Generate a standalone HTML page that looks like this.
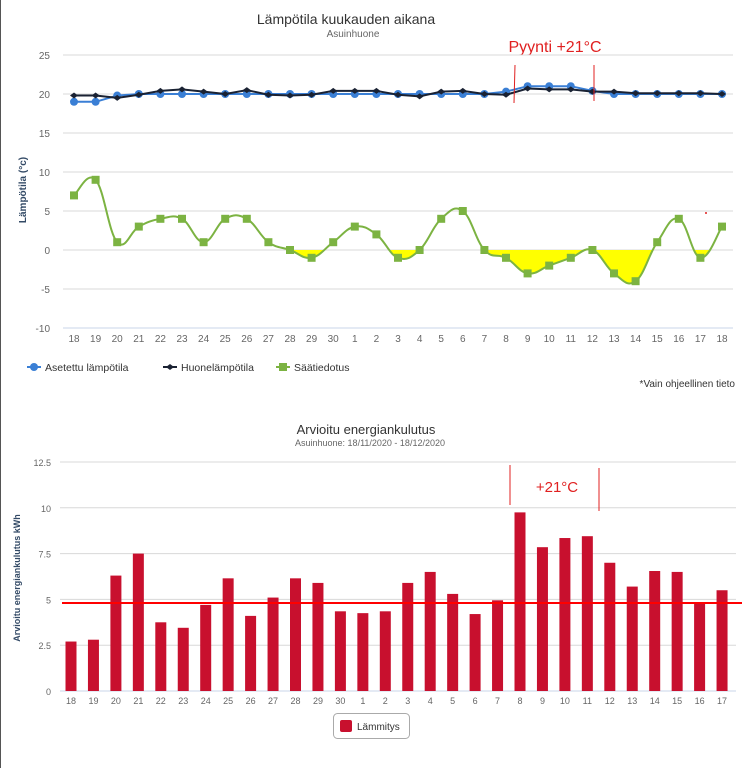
<!DOCTYPE html>
<html><head><meta charset="utf-8"><style>
html,body{margin:0;padding:0;background:#fff;width:742px;height:768px;overflow:hidden}
svg{display:block;font-family:"Liberation Sans",sans-serif}
</style></head><body>
<svg id="s" width="742" height="768" viewBox="0 0 742 768">
<rect width="742" height="768" fill="#fff"/>
<line x1="0.5" y1="0" x2="0.5" y2="768" stroke="#555" stroke-width="1"/>
<text x="346" y="24" text-anchor="middle" font-size="14" fill="#333">Lämpötila kuukauden aikana</text>
<text x="353" y="37" text-anchor="middle" font-size="10" fill="#666">Asuinhuone</text>
<text x="555" y="52" text-anchor="middle" font-size="16" fill="#e02020">Pyynti +21°C</text>
<text transform="translate(26,190) rotate(-90)" text-anchor="middle" font-size="10" font-weight="bold" fill="#334a66">Lämpötila (°c)</text>
<g id="gtop"></g>
<text x="735" y="387" text-anchor="end" font-size="10" fill="#333">*Vain ohjeellinen tieto</text>
<text x="366" y="434" text-anchor="middle" font-size="13" fill="#333">Arvioitu energiankulutus</text>
<text x="370" y="446" text-anchor="middle" font-size="9" fill="#666">Asuinhuone: 18/11/2020 - 18/12/2020</text>
<text transform="translate(20,578) rotate(-90)" text-anchor="middle" font-size="9" font-weight="bold" fill="#334a66">Arvioitu energiankulutus kWh</text>
<g id="gbot"></g>
<text x="557" y="492" text-anchor="middle" font-size="15" fill="#e02020">+21°C</text>
<line x1="510" y1="465" x2="510" y2="505" stroke="#e02020" stroke-width="1"/>
<line x1="599" y1="468" x2="599" y2="511" stroke="#e02020" stroke-width="1"/>
<rect x="333.5" y="713.5" width="76" height="25" rx="4" fill="#fff" stroke="#aaa"/>
<rect x="340" y="720" width="12" height="12" rx="2" fill="#c8102e"/>
<text x="357" y="730" font-size="10" fill="#333">Lämmitys</text>
</svg>
<script>
(function(){
const NS="http://www.w3.org/2000/svg";
function el(p,t,a,txt){const e=document.createElementNS(NS,t);for(const k in a)e.setAttribute(k,a[k]);if(txt!==undefined)e.textContent=txt;p.appendChild(e);return e;}
const gt=document.getElementById('gtop'),gb=document.getElementById('gbot');
const Y=v=>250-v*7.8, X=i=>74+i*21.6;
[25,20,15,10,5,0,-5,-10].forEach(v=>{el(gt,'line',{x1:63,x2:733,y1:Y(v),y2:Y(v),stroke:v==-10?'#c8d6e8':'#d8d8d8','stroke-width':1});
el(gt,'text',{x:50,y:Y(v)+4,'text-anchor':'end','font-size':10,fill:'#666'},String(v));});
const days=[18,19,20,21,22,23,24,25,26,27,28,29,30,1,2,3,4,5,6,7,8,9,10,11,12,13,14,15,16,17,18];
days.forEach((d,i)=>el(gt,'text',{x:X(i),y:342,'text-anchor':'middle','font-size':10,fill:'#666'},String(d)));
const w=[7,9,1,3,4,4,1,4,4,1,0,-1,1,3,2,-1,0,4,5,0,-1,-3,-2,-1,0,-3,-4,1,4,-1,3];
const setT=[19,19,19.8,20,20,20,20,20,20,20,20,20,20,20,20,20,20,20,20,20,20.3,21,21,21,20.4,20,20,20,20,20,20];
const room=[19.8,19.8,19.5,19.9,20.4,20.6,20.3,20,20.5,19.9,19.8,19.9,20.4,20.4,20.4,19.9,19.7,20.3,20.4,20,19.9,20.7,20.6,20.6,20.3,20.3,20.1,20.1,20.1,20.1,20];
function smooth(pts){let d=`M${pts[0][0]},${pts[0][1]}`;for(let i=0;i<pts.length-1;i++){const p0=pts[i-1]||pts[i],p1=pts[i],p2=pts[i+1],p3=pts[i+2]||p2;const t=0.2;
d+=` C${p1[0]+(p2[0]-p0[0])*t},${p1[1]+(p2[1]-p0[1])*t} ${p2[0]-(p3[0]-p1[0])*t},${p2[1]-(p3[1]-p1[1])*t} ${p2[0]},${p2[1]}`;}return d;}
const wp=w.map((v,i)=>[X(i),Y(v)]);
const wd=smooth(wp);
const cp=el(gt,'clipPath',{id:'neg'});el(cp,'rect',{x:0,y:250,width:742,height:100});
el(gt,'path',{d:wd+` L${X(30)},250 L${X(0)},250 Z`,fill:'#ffff00','clip-path':'url(#neg)'});
el(gt,'path',{d:wd,fill:'none',stroke:'#7cb342','stroke-width':2});
wp.forEach(p=>el(gt,'rect',{x:p[0]-4,y:p[1]-4,width:8,height:8,fill:'#7cb342'}));
const sp=setT.map((v,i)=>[X(i),Y(v)]);
el(gt,'polyline',{points:sp.join(' '),fill:'none',stroke:'#3a7fd5','stroke-width':2});
sp.forEach(p=>el(gt,'circle',{cx:p[0],cy:p[1],r:4,fill:'#3a7fd5'}));
const rp=room.map((v,i)=>[X(i),Y(v)]);
el(gt,'polyline',{points:rp.join(' '),fill:'none',stroke:'#1a2233','stroke-width':2});
rp.forEach(p=>el(gt,'path',{d:`M${p[0]-4},${p[1]} L${p[0]},${p[1]-3} L${p[0]+4},${p[1]} L${p[0]},${p[1]+3}Z`,fill:'#1a2233'}));
el(gt,'line',{x1:515,y1:65,x2:514,y2:103,stroke:'#e02020'});
el(gt,'line',{x1:594,y1:65,x2:594,y2:101,stroke:'#e02020'});
el(gt,'circle',{cx:706,cy:213,r:1,fill:'#e02020'});
el(gt,'line',{x1:27,x2:41,y1:367,y2:367,stroke:'#3a7fd5','stroke-width':2});el(gt,'circle',{cx:34,cy:367,r:4,fill:'#3a7fd5'});
el(gt,'text',{x:45,y:371,'font-size':10.5,fill:'#333'},'Asetettu lämpötila');
el(gt,'line',{x1:163,x2:177,y1:367,y2:367,stroke:'#1a2233','stroke-width':2});el(gt,'path',{d:'M166,367 L170,364 L174,367 L170,370Z',fill:'#1a2233'});
el(gt,'text',{x:181,y:371,'font-size':10.5,fill:'#333'},'Huonelämpötila');
el(gt,'line',{x1:276,x2:290,y1:367,y2:367,stroke:'#7cb342','stroke-width':2});el(gt,'rect',{x:279,y:363,width:8,height:8,fill:'#7cb342'});
el(gt,'text',{x:294,y:371,'font-size':10.5,fill:'#333'},'Säätiedotus');
const BY=v=>691-v*18.32, BX=i=>71+i*22.45;
[12.5,10,7.5,5,2.5,0].forEach(v=>{el(gb,'line',{x1:60,x2:736,y1:BY(v),y2:BY(v),stroke:v==0?'#c8d6e8':'#d8d8d8','stroke-width':1});
el(gb,'text',{x:51,y:BY(v)+4,'text-anchor':'end','font-size':9,fill:'#666'},String(v));});
const e=[2.7,2.8,6.3,7.5,3.75,3.45,4.7,6.15,4.1,5.1,6.15,5.9,4.35,4.25,4.35,5.9,6.5,5.3,4.2,4.95,9.75,7.85,8.35,8.45,7,5.7,6.55,6.5,4.85,5.5];
e.forEach((v,i)=>{el(gb,'rect',{x:BX(i)-5.5,y:BY(v),width:11,height:v*18.32,fill:'#c8102e'});
el(gb,'text',{x:BX(i),y:704,'text-anchor':'middle','font-size':9,fill:'#666'},String(days[i]));});
el(gb,'line',{x1:62,x2:742,y1:603,y2:603,stroke:'#ff0000','stroke-width':2});
})();
</script>
</body></html>
